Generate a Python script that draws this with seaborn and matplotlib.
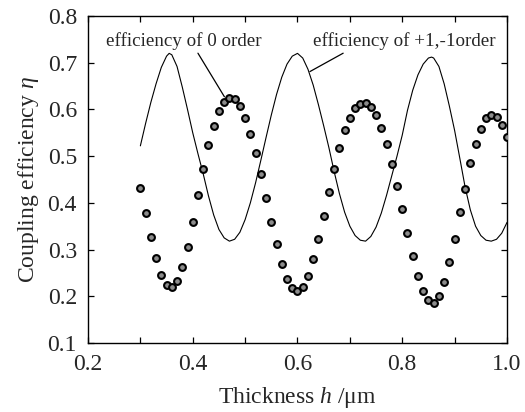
import matplotlib
matplotlib.use("Agg")
import matplotlib.pyplot as plt
from matplotlib.ticker import MultipleLocator
import seaborn as sns
import pandas as pd

# ---- data ----
line_h = [0.30, 0.31, 0.32, 0.33, 0.34, 0.35, 0.355, 0.36, 0.37, 0.38, 0.39, 0.40,
          0.41, 0.42, 0.43, 0.44, 0.45, 0.46, 0.47, 0.48, 0.49, 0.50, 0.51, 0.52,
          0.53, 0.54, 0.55, 0.56, 0.57, 0.58, 0.59, 0.60, 0.61, 0.62, 0.63, 0.64,
          0.65, 0.66, 0.67, 0.68, 0.69, 0.70, 0.71, 0.72, 0.73, 0.74, 0.75, 0.76,
          0.77, 0.78, 0.79, 0.80, 0.81, 0.82, 0.83, 0.84, 0.85, 0.856, 0.86, 0.87,
          0.88, 0.89, 0.90, 0.91, 0.92, 0.93, 0.94, 0.95, 0.96, 0.97, 0.98, 0.99, 1.00]
eff_pm1 = [0.522, 0.570, 0.615, 0.655, 0.690, 0.714, 0.720, 0.717, 0.692, 0.648, 0.600, 0.550,
           0.505, 0.462, 0.415, 0.374, 0.343, 0.325, 0.318, 0.322, 0.337, 0.364, 0.400, 0.443,
           0.491, 0.540, 0.588, 0.632, 0.669, 0.697, 0.714, 0.720, 0.710, 0.686, 0.652, 0.610,
           0.565, 0.518, 0.467, 0.420, 0.380, 0.350, 0.330, 0.320, 0.318, 0.328, 0.348, 0.378,
           0.416, 0.458, 0.500, 0.545, 0.598, 0.641, 0.674, 0.697, 0.710, 0.712, 0.710, 0.692,
           0.655, 0.607, 0.555, 0.495, 0.434, 0.385, 0.350, 0.330, 0.320, 0.318, 0.322, 0.335, 0.358]

dot_h = [0.30, 0.31, 0.32, 0.33, 0.34, 0.35, 0.36, 0.37, 0.38, 0.39, 0.40, 0.41, 0.42,
         0.43, 0.44, 0.45, 0.46, 0.47, 0.48, 0.49, 0.50, 0.51, 0.52, 0.53, 0.54, 0.55,
         0.56, 0.57, 0.58, 0.59, 0.60, 0.61, 0.62, 0.63, 0.64, 0.65, 0.66, 0.67, 0.68,
         0.69, 0.70, 0.71, 0.72, 0.73, 0.74, 0.75, 0.76, 0.77, 0.78, 0.79, 0.80, 0.81,
         0.82, 0.83, 0.84, 0.85, 0.86, 0.87, 0.88, 0.89, 0.90, 0.91, 0.92, 0.93, 0.94,
         0.95, 0.96, 0.97, 0.98, 0.99, 1.00]
eff_0 = [0.431, 0.378, 0.326, 0.282, 0.246, 0.225, 0.219, 0.233, 0.262, 0.306, 0.360, 0.417, 0.473,
         0.524, 0.565, 0.597, 0.616, 0.624, 0.622, 0.607, 0.581, 0.547, 0.506, 0.461, 0.411, 0.359,
         0.312, 0.269, 0.237, 0.217, 0.211, 0.220, 0.243, 0.279, 0.323, 0.372, 0.423, 0.472, 0.517,
         0.555, 0.582, 0.602, 0.612, 0.614, 0.606, 0.587, 0.561, 0.527, 0.484, 0.437, 0.387, 0.335,
         0.286, 0.243, 0.211, 0.191, 0.186, 0.200, 0.230, 0.273, 0.323, 0.380, 0.430, 0.485, 0.526,
         0.559, 0.581, 0.587, 0.583, 0.567, 0.542]

x_ticks = [0.2, 0.4, 0.6, 0.8, 1.0]
x_labels = ["0.2", "0.4", "0.6", "0.8", "1.0"]
y_ticks = [0.1, 0.2, 0.3, 0.4, 0.5, 0.6, 0.7, 0.8]
y_labels = ["0.1", "0.2", "0.3", "0.4", "0.5", "0.6", "0.7", "0.8"]
label_0 = "efficiency of 0 order"
label_pm1 = "efficiency of +1,-1order"
x_title = "Thickness $h$ /\u03bcm"
y_title = "Coupling efficiency $\\eta$"

# ---- style ----
sns.set_style("ticks")
plt.rcParams["font.family"] = ["Liberation Serif", "DejaVu Serif"]
plt.rcParams["mathtext.fontset"] = "custom"
plt.rcParams["mathtext.rm"] = "Liberation Serif"
plt.rcParams["mathtext.it"] = "Liberation Serif:italic"

fig = plt.figure(figsize=(5.25, 4.12), dpi=100)
ax = fig.add_axes([0.1676, 0.1675, 0.7981, 0.7937])

df_line = pd.DataFrame({"h": line_h, "eff": eff_pm1})
df_dot = pd.DataFrame({"h": dot_h, "eff": eff_0})

sns.lineplot(data=df_line, x="h", y="eff", color="black", lw=0.8, sort=False,
             estimator=None, ax=ax)
sns.scatterplot(data=df_dot, x="h", y="eff", marker="o", s=24, color="#8c8c8c",
                edgecolor="black", linewidth=1.5, ax=ax, zorder=3)

ax.set_xlim(0.2, 1.0)
ax.set_ylim(0.1, 0.8)
ax.set_xticks(x_ticks)
ax.set_xticklabels(x_labels)
ax.xaxis.set_minor_locator(MultipleLocator(0.1))
ax.set_yticks(y_ticks)
ax.set_yticklabels(y_labels)

ax.tick_params(axis="both", which="both", direction="in", top=True, right=True,
               labelsize=17, color="black", width=0.9, length=4, pad=8)
ax.tick_params(axis="x", which="major", pad=8)
for sp in ax.spines.values():
    sp.set_visible(True)
    sp.set_linewidth(1.0)
    sp.set_color("black")

ax.set_xlabel(x_title, fontsize=17, labelpad=7)
ax.set_ylabel(y_title, fontsize=17, labelpad=5)

ax.annotate(label_0, xy=(0.4605, 0.627), xytext=(0.2338, 0.7465),
            fontsize=13.7, ha="left", va="center",
            arrowprops=dict(arrowstyle="-", color="black", lw=0.9,
                            shrinkA=0, shrinkB=0, relpos=(0.58, 0.0)))
ax.annotate(label_pm1, xy=(0.6237, 0.681), xytext=(0.6288, 0.7465),
            fontsize=13.7, ha="left", va="center",
            arrowprops=dict(arrowstyle="-", color="black", lw=0.9,
                            shrinkA=0, shrinkB=0, relpos=(0.2, 0.0)))

fig.savefig("out.png", dpi=100)
